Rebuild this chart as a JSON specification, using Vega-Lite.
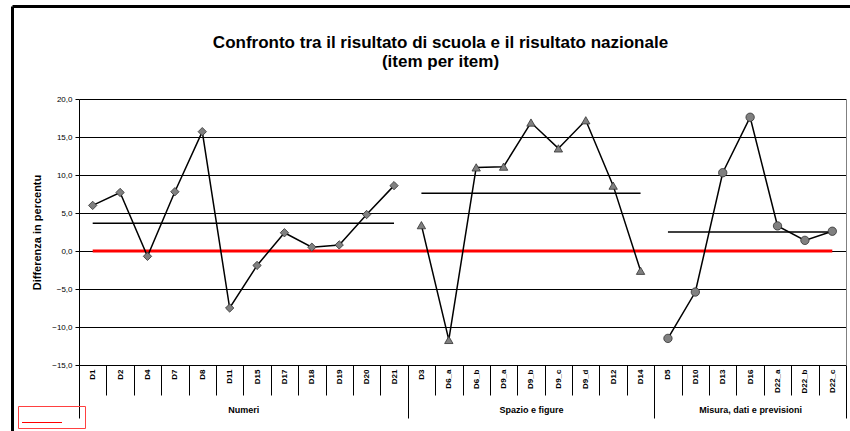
{
  "$schema": "https://vega.github.io/schema/vega-lite/v6.json",
  "width": 767,
  "height": 266,
  "autosize": {"type": "none"},
  "padding": {"left": 79, "top": 99, "right": 4, "bottom": 66},
  "background": "white",
  "config": {"view": {"stroke": null}, "font": "Liberation Sans"},
  "datasets": {
    "risultati": [
      {"item": "D1", "group": "Numeri", "value": 6.0, "media": 3.65, "nazionale": 0},
      {"item": "D2", "group": "Numeri", "value": 7.7, "media": 3.65, "nazionale": 0},
      {"item": "D4", "group": "Numeri", "value": -0.7, "media": 3.65, "nazionale": 0},
      {"item": "D7", "group": "Numeri", "value": 7.8, "media": 3.65, "nazionale": 0},
      {"item": "D8", "group": "Numeri", "value": 15.7, "media": 3.65, "nazionale": 0},
      {"item": "D11", "group": "Numeri", "value": -7.5, "media": 3.65, "nazionale": 0},
      {"item": "D15", "group": "Numeri", "value": -1.9, "media": 3.65, "nazionale": 0},
      {"item": "D17", "group": "Numeri", "value": 2.4, "media": 3.65, "nazionale": 0},
      {"item": "D18", "group": "Numeri", "value": 0.5, "media": 3.65, "nazionale": 0},
      {"item": "D19", "group": "Numeri", "value": 0.8, "media": 3.65, "nazionale": 0},
      {"item": "D20", "group": "Numeri", "value": 4.8, "media": 3.65, "nazionale": 0},
      {"item": "D21", "group": "Numeri", "value": 8.6, "media": 3.65, "nazionale": 0},
      {"item": "D3", "group": "Spazio e figure", "value": 3.4, "media": 7.6, "nazionale": 0},
      {"item": "D6_a", "group": "Spazio e figure", "value": -11.7, "media": 7.6, "nazionale": 0},
      {"item": "D6_b", "group": "Spazio e figure", "value": 11.0, "media": 7.6, "nazionale": 0},
      {"item": "D9_a", "group": "Spazio e figure", "value": 11.1, "media": 7.6, "nazionale": 0},
      {"item": "D9_b", "group": "Spazio e figure", "value": 16.9, "media": 7.6, "nazionale": 0},
      {"item": "D9_c", "group": "Spazio e figure", "value": 13.5, "media": 7.6, "nazionale": 0},
      {"item": "D9_d", "group": "Spazio e figure", "value": 17.2, "media": 7.6, "nazionale": 0},
      {"item": "D12", "group": "Spazio e figure", "value": 8.6, "media": 7.6, "nazionale": 0},
      {"item": "D14", "group": "Spazio e figure", "value": -2.6, "media": 7.6, "nazionale": 0},
      {"item": "D5", "group": "Misura, dati e previsioni", "value": -11.5, "media": 2.5, "nazionale": 0},
      {"item": "D10", "group": "Misura, dati e previsioni", "value": -5.4, "media": 2.5, "nazionale": 0},
      {"item": "D13", "group": "Misura, dati e previsioni", "value": 10.3, "media": 2.5, "nazionale": 0},
      {"item": "D16", "group": "Misura, dati e previsioni", "value": 17.6, "media": 2.5, "nazionale": 0},
      {"item": "D22_a", "group": "Misura, dati e previsioni", "value": 3.3, "media": 2.5, "nazionale": 0},
      {"item": "D22_b", "group": "Misura, dati e previsioni", "value": 1.4, "media": 2.5, "nazionale": 0},
      {"item": "D22_c", "group": "Misura, dati e previsioni", "value": 2.6, "media": 2.5, "nazionale": 0}
    ],
    "gruppi": [
      {"group": "Numeri", "start": 0, "end": 12, "mid": 6},
      {"group": "Spazio e figure", "start": 12, "end": 21, "mid": 16.5},
      {"group": "Misura, dati e previsioni", "start": 21, "end": 28, "mid": 24.5}
    ]
  },
  "layer": [
    {
      "data": {"name": "gruppi"},
      "mark": {"type": "point", "opacity": 0},
      "encoding": {
        "x": {
          "field": "start",
          "type": "quantitative",
          "scale": {"domain": [0, 28], "range": [-67, 771], "nice": false, "zero": false},
          "axis": {
            "orient": "top",
            "offset": 93,
            "labels": false,
            "ticks": false,
            "grid": false,
            "domainColor": "#000",
            "domainWidth": 3,
            "title": ["Confronto tra il risultato di scuola e il risultato nazionale", "(item per item)"],
            "titleFont": "Liberation Sans",
            "titleFontSize": 17,
            "titleFontWeight": "bold",
            "titleColor": "#000",
            "titleLineHeight": 19,
            "titleAlign": "center",
            "titleBaseline": "alphabetic",
            "titleX": 361,
            "titleY": 41
          }
        },
        "y": {
          "field": "start",
          "type": "quantitative",
          "scale": {"domain": [0, 28], "range": [332, -93], "nice": false, "zero": false},
          "axis": {"orient": "left", "offset": 67, "labels": false, "ticks": false, "grid": false, "title": null, "domainColor": "#000", "domainWidth": 3}
        }
      }
    },
    {
      "data": {"name": "risultati"},
      "encoding": {
        "x": {
          "field": "item",
          "type": "nominal",
          "sort": null,
          "scale": {"type": "band", "paddingInner": 0, "paddingOuter": 0},
          "axis": {
            "orient": "bottom",
            "title": null,
            "labelAngle": 270,
            "tickBand": "extent",
            "tickSize": 30,
            "labelPadding": -26,
            "labelFont": "Liberation Sans",
            "labelFontSize": 8,
            "labelFontWeight": "bold",
            "labelColor": "#000",
            "labelAlign": "right",
            "labelBaseline": "middle",
            "domain": false,
            "grid": false,
            "tickColor": "#000",
            "tickWidth": 1
          }
        }
      },
      "layer": [
        {
          "mark": {"type": "line", "color": "#000", "strokeWidth": 1.5},
          "encoding": {
            "y": {
              "field": "media",
              "type": "quantitative",
              "title": "Differenza in percentu",
              "scale": {"domain": [-15, 20], "nice": false, "zero": false},
              "axis": {
                "orient": "left",
                "values": [-15, -10, -5, 0, 5, 10, 15, 20],
                "labelExpr": "replace(format(datum.value, '.1f'), '.', ',')",
                "labelOverlap": false,
                "grid": true,
                "gridColor": "#000",
                "gridWidth": 1,
                "gridOpacity": 1,
                "domainColor": "#000",
                "tickColor": "#000",
                "tickSize": 4,
                "labelFont": "Liberation Sans",
                "labelFontSize": 8,
                "labelColor": "#000",
                "labelPadding": 3,
                "titleFont": "Liberation Sans",
                "titleFontSize": 11,
                "titleFontWeight": "bold",
                "titleColor": "#000",
                "titlePadding": 9
              }
            },
            "detail": {"field": "group"},
            "order": {"value": null}
          }
        },
        {
          "mark": {"type": "line", "strokeWidth": 3},
          "encoding": {
            "y": {
              "field": "nazionale",
              "type": "quantitative",
              "title": "Differenza in percentu",
              "scale": {"domain": [-15, 20], "nice": false, "zero": false},
              "axis": {
                "orient": "left",
                "values": [-15, -10, -5, 0, 5, 10, 15, 20],
                "labelExpr": "replace(format(datum.value, '.1f'), '.', ',')",
                "labelOverlap": false,
                "grid": true,
                "gridColor": "#000",
                "gridWidth": 1,
                "gridOpacity": 1,
                "domainColor": "#000",
                "tickColor": "#000",
                "tickSize": 4,
                "labelFont": "Liberation Sans",
                "labelFontSize": 8,
                "labelColor": "#000",
                "labelPadding": 3,
                "titleFont": "Liberation Sans",
                "titleFontSize": 11,
                "titleFontWeight": "bold",
                "titleColor": "#000",
                "titlePadding": 9
              }
            },
            "color": {
              "datum": "Risultato nazionale",
              "scale": {"range": ["#ff0000"]},
              "legend": {
                "orient": "none",
                "legendX": -61,
                "legendY": 307,
                "title": null,
                "labelExpr": "''",
                "labelFontSize": 12,
                "labelOffset": 49,
                "symbolType": "M-1,1.5H7",
                "symbolSize": 100,
                "symbolStrokeWidth": 1,
                "symbolStrokeColor": "#990000",
                "strokeColor": "#ff4040",
                "padding": 3
              }
            },
            "order": {"value": null}
          }
        },
        {
          "mark": {"type": "line", "color": "#000", "strokeWidth": 1.5},
          "encoding": {
            "y": {
              "field": "value",
              "type": "quantitative",
              "title": "Differenza in percentu",
              "scale": {"domain": [-15, 20], "nice": false, "zero": false},
              "axis": {
                "orient": "left",
                "values": [-15, -10, -5, 0, 5, 10, 15, 20],
                "labelExpr": "replace(format(datum.value, '.1f'), '.', ',')",
                "labelOverlap": false,
                "grid": true,
                "gridColor": "#000",
                "gridWidth": 1,
                "gridOpacity": 1,
                "domainColor": "#000",
                "tickColor": "#000",
                "tickSize": 4,
                "labelFont": "Liberation Sans",
                "labelFontSize": 8,
                "labelColor": "#000",
                "labelPadding": 3,
                "titleFont": "Liberation Sans",
                "titleFontSize": 11,
                "titleFontWeight": "bold",
                "titleColor": "#000",
                "titlePadding": 9
              }
            },
            "detail": {"field": "group"},
            "order": {"value": null}
          }
        },
        {
          "mark": {"type": "point", "filled": true, "fill": "#808080", "stroke": "#303030", "strokeWidth": 0.8, "size": 70, "opacity": 1},
          "encoding": {
            "y": {
              "field": "value",
              "type": "quantitative",
              "title": "Differenza in percentu",
              "scale": {"domain": [-15, 20], "nice": false, "zero": false},
              "axis": {
                "orient": "left",
                "values": [-15, -10, -5, 0, 5, 10, 15, 20],
                "labelExpr": "replace(format(datum.value, '.1f'), '.', ',')",
                "labelOverlap": false,
                "grid": true,
                "gridColor": "#000",
                "gridWidth": 1,
                "gridOpacity": 1,
                "domainColor": "#000",
                "tickColor": "#000",
                "tickSize": 4,
                "labelFont": "Liberation Sans",
                "labelFontSize": 8,
                "labelColor": "#000",
                "labelPadding": 3,
                "titleFont": "Liberation Sans",
                "titleFontSize": 11,
                "titleFontWeight": "bold",
                "titleColor": "#000",
                "titlePadding": 9
              }
            },
            "shape": {
              "field": "group",
              "type": "nominal",
              "scale": {
                "domain": ["Numeri", "Spazio e figure", "Misura, dati e previsioni"],
                "range": ["diamond", "triangle-up", "circle"]
              },
              "legend": null
            }
          }
        }
      ]
    },
    {
      "data": {"name": "gruppi"},
      "mark": {"type": "point", "opacity": 0},
      "encoding": {
        "x": {
          "field": "start",
          "type": "quantitative",
          "scale": {"domain": [0, 28], "nice": false, "zero": false},
          "axis": {
            "orient": "bottom",
            "values": [0, 12, 21, 28],
            "tickSize": 53,
            "labels": false,
            "domain": false,
            "grid": false,
            "title": null,
            "tickColor": "#000",
            "tickWidth": 1
          }
        },
        "y": {
          "field": "start",
          "type": "quantitative",
          "scale": {"domain": [0, 28], "nice": false, "zero": false},
          "axis": {"orient": "right", "labels": false, "ticks": false, "grid": false, "title": null, "domainColor": "#808080", "domainWidth": 1}
        }
      }
    },
    {
      "data": {"name": "gruppi"},
      "mark": {"type": "point", "opacity": 0},
      "encoding": {
        "x": {
          "field": "mid",
          "type": "quantitative",
          "scale": {"domain": [0, 28], "nice": false, "zero": false},
          "axis": {
            "orient": "bottom",
            "values": [6, 16.5, 24.5],
            "ticks": false,
            "domain": false,
            "grid": false,
            "title": null,
            "labelPadding": 40,
            "labelExpr": "datum.value == 6 ? 'Numeri' : datum.value == 16.5 ? 'Spazio e figure' : 'Misura, dati e previsioni'",
            "labelFont": "Liberation Sans",
            "labelFontSize": 9,
            "labelFontWeight": "bold",
            "labelColor": "#000"
          }
        }
      }
    }
  ],
  "resolve": {
    "scale": {"x": "independent", "y": "independent"},
    "axis": {"x": "independent", "y": "independent"}
  }
}
